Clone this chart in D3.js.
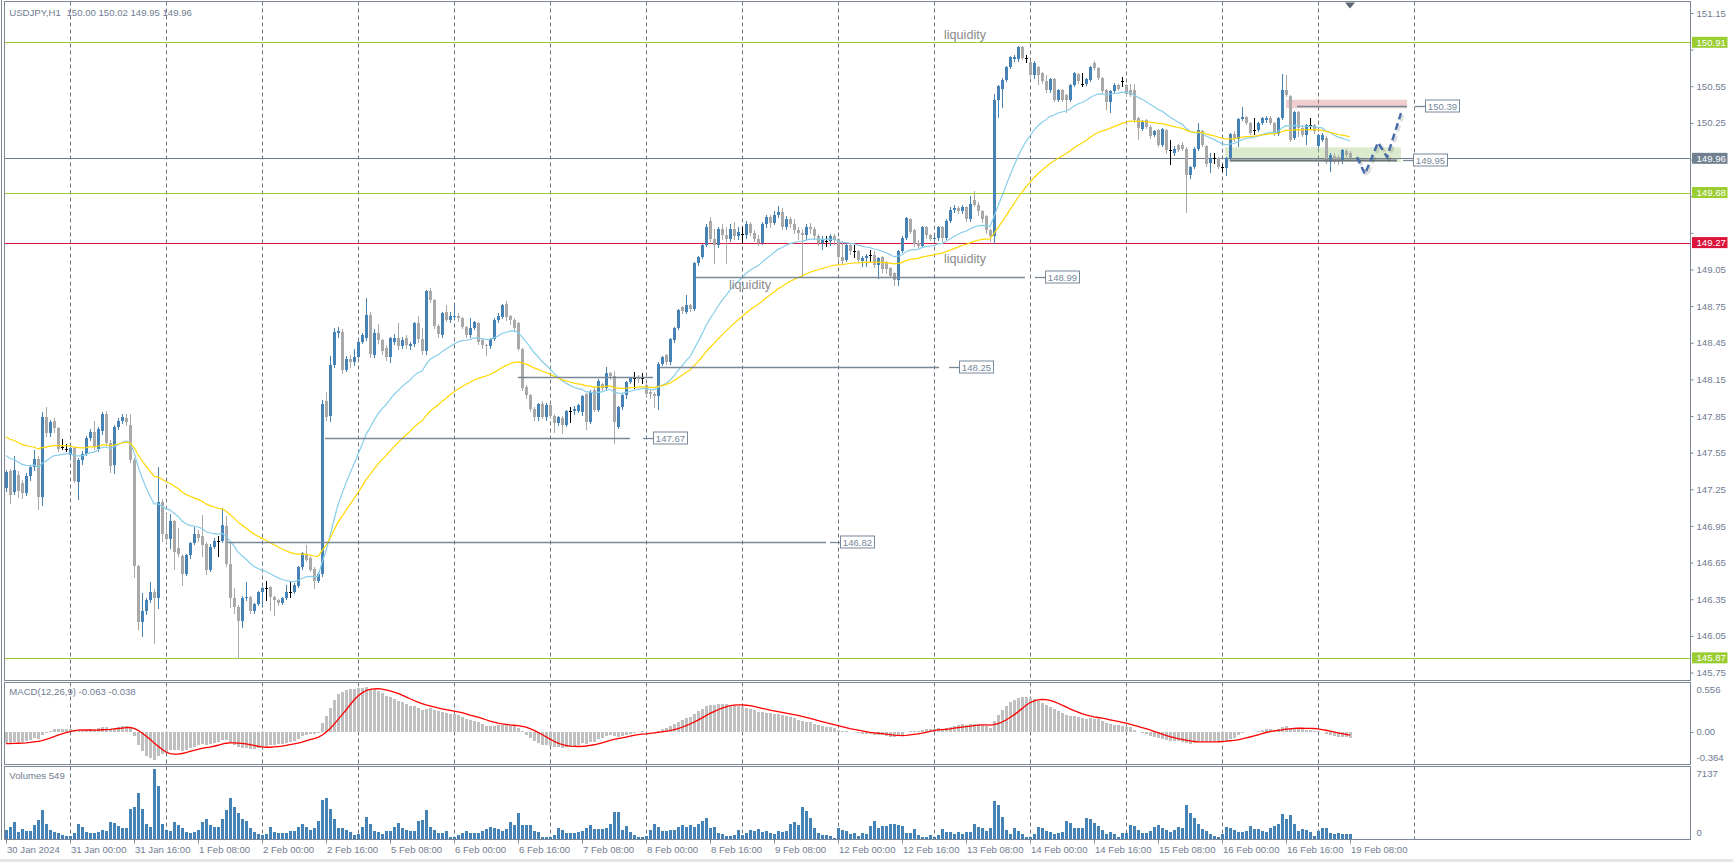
<!DOCTYPE html>
<html><head><meta charset="utf-8">
<script src="https://cdn.jsdelivr.net/npm/d3@7"></script>
<style>
html,body{margin:0;padding:0;background:#fff;overflow:hidden;}
svg{display:block;}
</style></head><body>
<svg id="chart" width="1733" height="862"></svg>
<script>
// ---------------- DATA (USDJPY H1, 30 Jan 2024 08:00 .. 19 Feb 2024 08:00) ----------------
const barOpen = [
147.26,147.40,147.23,147.37,147.30,147.22,147.36,147.43,147.50,147.19,147.84,147.71,147.81,147.75,147.60,147.58,
147.53,147.59,147.31,147.49,147.54,147.67,147.72,147.58,147.73,147.87,147.63,147.45,147.76,147.81,147.83,147.78,147.49,146.62,146.16,146.25,146.34,146.41,146.36,147.15,
146.88,146.84,146.99,146.77,146.70,146.56,146.71,146.81,146.88,146.87,146.80,146.59,146.78,146.83,146.83,146.95,146.64,146.36,146.29,146.17,146.36,146.37,146.25,146.31,
146.41,146.44,146.45,146.37,146.34,146.32,146.36,146.41,146.41,146.46,146.61,146.71,146.69,146.60,146.50,146.56,147.97,147.85,148.27,148.53,148.54,148.23,148.32,148.29,
148.33,148.46,148.49,148.68,148.35,148.53,148.47,148.41,148.33,148.46,148.49,148.42,148.49,148.42,148.44,148.61,148.48,148.38,148.87,148.80,148.59,148.51,148.70,148.64,
148.66,148.67,148.65,148.58,148.51,148.57,148.61,148.47,148.43,148.42,148.48,148.64,148.66,148.77,148.67,148.64,148.61,148.40,148.09,148.02,147.91,147.84,147.95,147.84,
147.94,147.85,147.79,147.83,147.78,147.89,147.89,147.89,147.88,148.03,147.80,148.06,147.90,148.11,148.08,148.20,148.18,147.76,147.92,148.02,148.13,148.16,148.17,148.16,
148.10,148.05,148.03,148.01,148.28,148.35,148.29,148.47,148.57,148.74,148.70,148.76,148.73,149.10,149.15,149.25,149.45,149.30,149.25,149.38,149.33,149.30,149.38,149.32,
149.34,149.33,149.42,149.35,149.30,149.27,149.42,149.48,149.43,149.50,149.52,149.40,149.46,149.42,149.37,149.35,149.33,149.40,149.38,149.32,149.27,149.28,149.28,149.32,
149.30,149.15,149.13,149.25,149.20,149.20,149.12,149.14,149.17,149.17,149.09,149.15,149.11,149.06,149.02,148.96,149.20,149.31,149.46,149.37,149.27,149.24,149.40,149.33,
149.30,149.31,149.40,149.31,149.45,149.54,149.55,149.53,149.56,149.46,149.62,149.58,149.53,149.49,149.37,149.32,150.44,150.53,150.60,150.71,150.77,150.77,150.87,150.78,
150.75,150.64,150.71,150.66,150.59,150.52,150.61,150.44,150.52,150.48,150.44,150.56,150.65,150.57,150.57,150.60,150.74,150.70,150.62,150.52,150.42,150.51,150.56,150.59,
150.56,150.52,150.52,150.29,150.20,150.27,150.22,150.15,150.19,150.07,150.19,150.03,150.00,150.07,150.07,150.04,149.82,149.89,150.04,150.18,150.06,149.92,149.96,149.96,
149.89,149.88,149.96,150.16,150.12,150.28,150.30,150.25,150.19,150.19,150.25,150.27,150.29,150.25,150.16,150.29,150.52,150.47,150.13,150.34,150.21,150.15,150.23,150.23,
150.06,150.11,150.13,149.93,149.98,149.97,149.95,150.02,150.00];
const barHigh = [
147.41,147.42,147.52,147.40,147.33,147.38,147.45,147.57,147.52,147.88,147.92,147.82,147.83,147.76,147.66,147.62,
147.60,147.60,147.51,147.56,147.69,147.74,147.81,147.76,147.88,147.89,147.65,147.78,147.83,147.87,147.87,147.87,147.51,146.63,146.40,146.36,146.49,146.43,147.43,147.17,
147.05,147.05,147.00,146.93,146.72,146.72,146.82,146.94,146.92,147.04,146.82,146.80,146.85,146.87,147.10,147.03,146.81,146.44,146.30,146.38,146.49,146.38,146.32,146.42,
146.45,146.50,146.46,146.38,146.35,146.37,146.47,146.50,146.48,146.62,146.74,146.79,146.70,146.61,146.57,147.98,148.05,148.34,148.57,148.58,148.56,148.34,148.35,148.40,
148.47,148.53,148.82,148.70,148.56,148.60,148.48,148.43,148.50,148.52,148.61,148.50,148.51,148.46,148.62,148.67,148.57,148.88,148.90,148.81,148.60,148.70,148.76,148.70,
148.76,148.69,148.66,148.59,148.65,148.63,148.62,148.48,148.44,148.49,148.65,148.69,148.77,148.79,148.68,148.65,148.62,148.41,148.10,148.03,147.92,147.96,147.97,147.96,
147.95,147.87,147.85,147.85,147.90,147.92,147.93,147.95,148.02,148.04,148.06,148.08,148.15,148.12,148.25,148.21,148.22,147.93,148.03,148.14,148.17,148.21,148.19,148.20,
148.11,148.06,148.05,148.29,148.34,148.36,148.49,148.58,148.73,148.75,148.84,148.77,149.11,149.16,149.26,149.42,149.48,149.38,149.40,149.42,149.40,149.42,149.44,149.40,
149.40,149.45,149.44,149.37,149.33,149.44,149.50,149.50,149.53,149.57,149.55,149.49,149.48,149.46,149.40,149.38,149.42,149.43,149.40,149.34,149.32,149.32,149.34,149.34,
149.31,149.28,149.27,149.27,149.25,149.21,149.16,149.18,149.21,149.20,149.15,149.16,149.12,149.07,149.03,149.21,149.32,149.48,149.47,149.38,149.29,149.41,149.41,149.34,
149.33,149.41,149.41,149.46,149.56,149.58,149.57,149.58,149.57,149.65,149.69,149.60,149.54,149.50,149.38,150.49,150.56,150.62,150.72,150.80,150.81,150.88,150.88,150.81,
150.76,150.76,150.72,150.67,150.64,150.62,150.62,150.53,150.53,150.49,150.57,150.67,150.66,150.66,150.62,150.72,150.76,150.71,150.63,150.53,150.52,150.58,150.57,150.63,
150.57,150.57,150.57,150.30,150.27,150.28,150.23,150.19,150.20,150.21,150.20,150.11,150.06,150.08,150.09,150.05,149.90,150.05,150.25,150.19,150.07,150.00,150.00,149.97,
149.91,149.97,150.17,150.18,150.29,150.38,150.31,150.26,150.29,150.26,150.30,150.31,150.31,150.26,150.30,150.65,150.64,150.48,150.35,150.35,150.23,150.24,150.29,150.24,
150.16,150.17,150.14,150.00,150.00,149.99,150.04,150.04,150.02];
const barLow = [
147.24,147.14,147.21,147.19,147.18,147.20,147.33,147.41,147.09,147.12,147.69,147.69,147.72,147.56,147.58,147.56,
147.51,147.31,147.17,147.46,147.53,147.65,147.58,147.56,147.70,147.61,147.39,147.38,147.74,147.79,147.78,147.47,146.53,146.11,146.05,146.23,146.33,145.99,146.28,146.83,
146.82,146.77,146.60,146.70,146.47,146.55,146.69,146.80,146.83,146.70,146.56,146.58,146.77,146.70,146.82,146.62,146.29,146.24,145.87,146.12,146.34,146.24,146.24,146.30,
146.30,146.34,146.26,146.22,146.30,146.31,146.35,146.37,146.40,146.45,146.60,146.66,146.58,146.44,146.49,146.54,147.82,147.81,148.25,148.50,148.20,148.22,148.25,148.27,
148.33,148.45,148.47,148.33,148.33,148.45,148.36,148.31,148.29,148.44,148.40,148.41,148.41,148.40,148.42,148.46,148.36,148.36,148.78,148.57,148.50,148.50,148.63,148.62,
148.65,148.63,148.57,148.50,148.50,148.56,148.44,148.41,148.35,148.41,148.47,148.62,148.65,148.64,148.60,148.55,148.39,148.06,148.00,147.89,147.82,147.82,147.83,147.82,
147.83,147.72,147.78,147.71,147.77,147.80,147.87,147.88,147.86,147.74,147.79,147.89,147.89,148.06,148.07,148.15,147.63,147.75,147.91,148.00,148.12,148.08,148.13,148.12,
148.02,148.00,147.92,147.91,148.27,148.28,148.28,148.46,148.56,148.69,148.69,148.71,148.72,149.09,149.14,149.24,149.28,149.10,149.23,149.30,149.10,149.28,149.30,149.30,
149.27,149.31,149.33,149.28,149.25,149.26,149.40,149.40,149.42,149.48,149.38,149.38,149.40,149.35,149.30,148.99,149.30,149.35,149.30,149.25,149.22,149.24,149.25,149.26,
149.13,149.10,149.12,149.18,149.15,149.11,149.08,149.08,149.12,149.07,148.98,149.03,149.02,148.99,148.92,148.92,149.19,149.30,149.35,149.24,149.23,149.23,149.31,149.29,
149.29,149.29,149.28,149.30,149.44,149.52,149.51,149.51,149.45,149.45,149.57,149.50,149.44,149.35,149.28,149.27,150.30,150.38,150.59,150.70,150.76,150.76,150.77,150.75,
150.63,150.62,150.57,150.58,150.50,150.50,150.43,150.43,150.43,150.34,150.43,150.55,150.58,150.55,150.56,150.59,150.69,150.61,150.50,150.36,150.34,150.50,150.52,150.55,
150.48,150.47,150.26,150.12,150.19,150.21,150.13,150.14,150.06,150.06,150.00,149.91,149.99,150.02,150.03,149.52,149.80,149.88,150.03,150.06,149.90,149.85,149.92,149.88,
149.86,149.82,149.95,150.10,150.06,150.27,150.24,150.16,150.16,150.18,150.24,150.26,150.24,150.15,150.15,150.28,150.47,150.10,150.12,150.14,150.14,150.08,150.20,150.17,
150.05,150.10,149.92,149.86,149.92,149.91,149.92,149.96,149.95];
const barClose = [
147.39,147.20,147.41,147.24,147.22,147.36,147.43,147.50,147.19,147.84,147.71,147.80,147.75,147.58,147.60,147.58,
147.59,147.32,147.49,147.54,147.67,147.72,147.60,147.74,147.87,147.63,147.44,147.76,147.81,147.84,147.80,147.49,146.62,146.16,146.25,146.34,146.41,146.36,147.15,146.88,
146.84,146.99,146.74,146.72,146.56,146.71,146.81,146.88,146.85,146.79,146.59,146.78,146.83,146.83,146.96,146.64,146.36,146.29,146.17,146.36,146.37,146.25,146.31,146.41,
146.44,146.44,146.37,146.34,146.32,146.36,146.41,146.41,146.47,146.61,146.73,146.67,146.59,146.50,146.56,147.95,147.84,148.27,148.54,148.55,148.23,148.32,148.29,148.33,
148.46,148.51,148.68,148.36,148.53,148.47,148.38,148.33,148.49,148.49,148.42,148.47,148.43,148.44,148.61,148.48,148.38,148.87,148.80,148.59,148.52,148.69,148.64,148.67,
148.67,148.65,148.58,148.51,148.57,148.62,148.46,148.43,148.42,148.48,148.64,148.67,148.76,148.66,148.64,148.57,148.40,148.08,148.02,147.91,147.84,147.95,147.84,147.94,
147.85,147.79,147.84,147.78,147.89,147.89,147.91,147.94,148.01,147.80,148.05,147.90,148.14,148.08,148.20,148.18,147.80,147.92,148.02,148.13,148.16,148.16,148.15,148.16,
148.03,148.03,148.01,148.28,148.33,148.29,148.48,148.57,148.72,148.71,148.76,148.73,149.10,149.15,149.25,149.40,149.30,149.25,149.38,149.33,149.30,149.38,149.32,149.36,
149.34,149.42,149.35,149.30,149.27,149.42,149.48,149.43,149.50,149.52,149.40,149.46,149.42,149.37,149.35,149.33,149.40,149.38,149.32,149.27,149.30,149.28,149.32,149.29,
149.15,149.12,149.25,149.20,149.20,149.13,149.14,149.16,149.17,149.09,149.14,149.05,149.05,149.00,148.96,149.20,149.31,149.47,149.36,149.26,149.24,149.40,149.33,149.30,
149.31,149.40,149.31,149.45,149.54,149.55,149.53,149.56,149.46,149.59,149.58,149.53,149.46,149.37,149.32,150.44,150.55,150.60,150.71,150.79,150.79,150.87,150.78,150.78,
150.64,150.74,150.64,150.59,150.52,150.61,150.44,150.52,150.44,150.44,150.56,150.66,150.59,150.57,150.61,150.71,150.70,150.62,150.51,150.42,150.51,150.56,150.53,150.59,
150.49,150.48,150.27,150.21,150.26,150.22,150.14,150.18,150.07,150.20,150.03,150.03,150.04,150.03,150.04,149.82,149.89,150.04,150.19,150.07,149.91,149.96,149.96,149.89,
149.89,149.96,150.16,150.12,150.28,150.30,150.25,150.17,150.19,150.25,150.29,150.29,150.25,150.16,150.29,150.52,150.48,150.11,150.34,150.21,150.15,150.23,150.23,150.18,
150.15,150.15,149.93,149.99,149.93,149.93,150.03,149.99,149.96];
const barVolume = [
900,1250,1760,700,1000,800,850,1430,1940,2960,1530,900,750,600,400,300,
350,600,1530,1250,700,650,600,700,900,850,1730,1630,1360,1120,1120,3060,3300,4690,3060,1530,1250,7137,5400,1530,
900,800,1760,1430,1120,700,650,750,900,1760,2060,1430,1250,1250,1990,2960,4150,3300,2620,2060,1830,1100,700,500,
400,550,1200,700,650,600,650,800,850,1250,1530,1250,900,1130,1800,3980,4210,3060,1990,1120,1120,900,700,400,
500,1250,2280,1530,800,700,550,830,830,1240,1590,1140,930,790,790,1860,1970,3000,1240,930,620,620,830,240,
210,410,660,830,620,620,620,830,1070,1240,1140,1040,860,1000,1760,1450,2690,1450,1410,1450,830,760,240,210,
240,450,1140,930,660,660,600,700,800,1140,1450,1040,1000,1000,1140,1550,2800,2800,930,1280,730,410,210,240,
300,900,1550,1240,830,830,930,930,1240,1450,1240,1380,1240,1550,1860,2170,1140,1240,660,480,300,280,450,900,
400,600,900,800,1000,700,830,600,500,800,700,800,1500,1700,1400,3310,2900,2170,1100,600,450,450,300,150,
1140,930,790,480,660,310,620,550,1350,1860,1140,1350,1280,1520,1520,1380,1350,620,620,1070,410,210,210,410,
210,410,1040,720,720,480,720,480,720,720,1550,1240,1140,830,1140,3830,3420,2280,930,480,1140,830,480,210,
210,480,1240,1140,830,720,480,620,720,1860,1660,1140,1140,1140,2170,2070,1660,1350,930,480,720,480,210,620,
620,1450,1350,930,620,620,830,1240,1450,1140,930,720,930,1240,1140,3420,2690,2170,1550,1070,830,480,300,210,
480,1240,1140,930,720,720,830,1350,1040,1040,830,720,1140,1350,1500,2590,2070,2480,1550,830,1040,930,720,310,
790,1140,1140,620,550,620,550,480,549];

const timeLabels = ["30 Jan 2024","31 Jan 00:00","31 Jan 16:00","1 Feb 08:00","2 Feb 00:00","2 Feb 16:00",
  "5 Feb 08:00","6 Feb 00:00","6 Feb 16:00","7 Feb 08:00","8 Feb 00:00","8 Feb 16:00","9 Feb 08:00",
  "12 Feb 00:00","12 Feb 16:00","13 Feb 08:00","14 Feb 00:00","14 Feb 16:00","15 Feb 08:00","16 Feb 00:00",
  "16 Feb 16:00","19 Feb 08:00"];
const priceTicks = [145.75,146.05,146.35,146.65,146.95,147.25,147.55,147.85,148.15,148.45,148.75,149.05,149.35,149.65,149.95,150.25,150.55,150.85,151.15];

// horizontal price levels with coloured axis tags
const priceTags = [
  {price:150.91, color:"#9acd32", text:"#ffffff"},
  {price:149.96, color:"#708090", text:"#ffffff"},
  {price:149.68, color:"#9acd32", text:"#ffffff"},
  {price:149.27, color:"#dc143c", text:"#ffffff"},
  {price:145.87, color:"#9acd32", text:"#ffffff"}
];
// drawn level segments (bar index range, price, label box position in bars)
const levelLines = [
  {price:148.99, from:172.5, to:254.75, labelAt:259.75, label:"148.99"},
  {price:148.25, from:163.5, to:233.25, labelAt:238.25, label:"148.25"},
  {price:148.17, from:128,   to:161.75, labelAt:null,   label:null},
  {price:147.67, from:79.75, to:156,    labelAt:161.75, label:"147.67"},
  {price:146.82, from:55.25, to:205,    labelAt:208.5,  label:"146.82"},
  {price:150.39, from:322.75,to:350.25, labelAt:354.75, label:"150.39"},
  {price:149.95, from:306,   to:347.75, labelAt:351.75, label:"149.95", thick:true}
];
const zones = [
  {from:320,    to:350.25, top:150.44, bottom:150.37, fill:"rgba(214,120,120,0.36)"},
  {from:304.75, to:348.75, top:150.05, bottom:149.93, fill:"rgba(140,185,90,0.30)"}
];
const forecastPath = [
  {bar:337.75, price:149.97},{bar:339.75, price:149.83},{bar:343, price:150.09},
  {bar:345.25, price:149.97},{bar:348.75, price:150.33}
];
const notes = [
  {bar:239.75, price:150.97,  text:"liquidity"},
  {bar:239.75, price:149.135, text:"liquidity"},
  {bar:186,    price:148.92,  text:"liquidity"}
];
const maFastPeriod = 24, maFastSeed = 147.54;
const maSlowPeriod = 50, maSlowSeed = 147.69;
const macdSeeds = {fast:147.40, slow:147.53, signal:-0.135};

// ---------------- RENDER ----------------
const FONT = '"Liberation Sans", Arial, sans-serif';
const TXT = "#6f7c91", FRAME = "#7d8796", GRID = "#6e7683";
const BULL = "#4682b4", BEAR = "#a9a9a9";
const N = barClose.length;
const svg = d3.select("#chart");
const L = 4.5, R = 1690.5;
const P = {mainTop:1.5, mainBot:680.5, macdTop:682.5, macdBot:764.5, volTop:766.5, volBot:839.5};

const x = d3.scaleLinear().domain([0, 336]).range([6, 1350]);
const y = d3.scaleLinear().domain([145.75, 151.15]).range([672.5, 13]);
const yMacd = d3.scaleLinear().domain([-0.364, 0.556]).range([764, 683]);
const yVol = d3.scaleLinear().domain([0, 7137]).range([839, 769]);

const bars = d3.range(N).map(i => ({i, o:barOpen[i], h:barHigh[i], l:barLow[i], c:barClose[i], v:barVolume[i]}));

function emaSeries(vals, period, seed){ const k = 2/(period+1); let p = seed; return vals.map(v => (p = p + k*(v - p))); }
const maFast = emaSeries(barClose, maFastPeriod, maFastSeed);
const maSlow = emaSeries(barClose, maSlowPeriod, maSlowSeed);
const e12 = emaSeries(barClose, 12, macdSeeds.fast), e26 = emaSeries(barClose, 26, macdSeeds.slow);
const macdMain = e12.map((v,i) => v - e26[i]);
const macdSignal = macdMain.map((v,i) => { let s = 0; for (let j=i-8;j<=i;j++) s += j>=0 ? macdMain[j] : macdSeeds.signal; return s/9; });

const defs = svg.append("defs");
[["cMain",P.mainTop,P.mainBot],["cMacd",P.macdTop,P.macdBot],["cVol",P.volTop,P.volBot]].forEach(([id,t,b]) => {
  defs.append("clipPath").attr("id",id).append("rect").attr("x",L+0.5).attr("y",t+0.5).attr("width",R-L-1).attr("height",b-t-1);
});

// vertical dashed grid
const gGrid = svg.append("g");
d3.range(16, 353, 24).forEach(i => {
  const gx = Math.round(x(i)) + 0.5;
  [[P.mainTop,P.mainBot],[P.macdTop,P.macdBot],[P.volTop,P.volBot]].forEach(([t,b]) =>
    gGrid.append("line").attr("x1",gx).attr("x2",gx).attr("y1",t).attr("y2",b)
      .attr("stroke",GRID).attr("stroke-width",1).attr("stroke-dasharray","4,3"));
});

// main panel
const gMain = svg.append("g").attr("clip-path","url(#cMain)");
zones.forEach(z => gMain.append("rect").attr("x",x(z.from)).attr("width",x(z.to)-x(z.from))
  .attr("y",y(z.top)).attr("height",y(z.bottom)-y(z.top)).attr("fill",z.fill));
priceTags.forEach(t => gMain.append("line").attr("x1",L).attr("x2",R)
  .attr("y1",Math.round(y(t.price))+0.5).attr("y2",Math.round(y(t.price))+0.5)
  .attr("stroke",t.color).attr("stroke-width",1));

const colorOf = d => d.c > d.o ? BULL : (d.c < d.o ? BEAR : "#000");
gMain.selectAll("line.wick").data(bars).join("line").attr("class","wick")
  .attr("x1",d => Math.round(x(d.i))+0.5).attr("x2",d => Math.round(x(d.i))+0.5)
  .attr("y1",d => Math.round(y(d.h))).attr("y2",d => Math.round(y(d.l))+1)
  .attr("stroke",colorOf).attr("stroke-width",1).attr("shape-rendering","crispEdges");
gMain.selectAll("rect.body").data(bars).join("rect").attr("class","body")
  .attr("x",d => Math.round(x(d.i))-1).attr("width",3)
  .attr("y",d => Math.round(y(Math.max(d.o,d.c))))
  .attr("height",d => Math.max(1, Math.round(y(Math.min(d.o,d.c))) - Math.round(y(Math.max(d.o,d.c)))))
  .attr("fill",colorOf).attr("shape-rendering","crispEdges");

const lineGen = d3.line().x((d,i) => x(i)).y(d => y(d));
gMain.append("path").attr("d",lineGen(maFast)).attr("fill","none").attr("stroke","#87ceeb").attr("stroke-width",1.2);
gMain.append("path").attr("d",lineGen(maSlow)).attr("fill","none").attr("stroke","#ffd700").attr("stroke-width",1.2);

levelLines.forEach(lv => {
  const ly = Math.round(y(lv.price)) + 0.5, x1 = x(lv.from), x2 = x(lv.to);
  gMain.append("line").attr("x1",x1).attr("x2",x2).attr("y1",ly).attr("y2",ly)
    .attr("stroke", lv.thick ? "#6c7580" : "#778899").attr("stroke-width", lv.thick ? 2 : 1.3);
  if (lv.label) {
    const bx = x(lv.labelAt);
    gMain.append("line").attr("x1",Math.max(x2, bx-10)).attr("x2",bx).attr("y1",ly).attr("y2",ly).attr("stroke","#778899").attr("stroke-width",1.3);
    gMain.append("rect").attr("x",bx+0.5).attr("y",ly-6.5).attr("width",34).attr("height",12)
      .attr("fill","#fff").attr("stroke","#778899").attr("stroke-width",1);
    gMain.append("text").attr("x",bx+17.5).attr("y",ly).attr("dy","0.34em").attr("text-anchor","middle")
      .attr("font-family",FONT).attr("font-size",9.6).attr("fill","#778899").text(lv.label);
  }
});

const fLine = d3.line().x(d => x(d.bar)).y(d => y(d.price));
gMain.append("path").attr("d",fLine(forecastPath)).attr("transform","translate(2,2)").attr("fill","none")
  .attr("stroke","rgba(0,0,0,0.12)").attr("stroke-width",3).attr("stroke-dasharray","7,4");
gMain.append("path").attr("d",fLine(forecastPath)).attr("fill","none")
  .attr("stroke","#4a6ea8").attr("stroke-width",2.5).attr("stroke-dasharray","7,4");

notes.forEach(n => gMain.append("text").attr("x",x(n.bar)).attr("y",y(n.price)).attr("dy","0.32em")
  .attr("text-anchor","middle").attr("font-family",FONT).attr("font-size",12.6).attr("fill","#8a8a8a").text(n.text));

// MACD panel
const gMacd = svg.append("g").attr("clip-path","url(#cMacd)");
gMacd.selectAll("rect").data(macdMain).join("rect")
  .attr("x",(d,i) => Math.round(x(i))-1).attr("width",3)
  .attr("y",d => Math.min(yMacd(0), yMacd(d))).attr("height",d => Math.abs(yMacd(d)-yMacd(0)))
  .attr("fill","#c0c0c0").attr("shape-rendering","crispEdges");
gMacd.append("path").attr("d",d3.line().x((d,i)=>x(i)).y(d=>yMacd(d))(macdSignal))
  .attr("fill","none").attr("stroke","#ff0000").attr("stroke-width",1.3);

// Volume panel
const gVol = svg.append("g").attr("clip-path","url(#cVol)");
gVol.selectAll("rect").data(bars).join("rect")
  .attr("x",d => Math.round(x(d.i))-1).attr("width",3)
  .attr("y",d => yVol(d.v)).attr("height",d => yVol(0)-yVol(d.v))
  .attr("fill",BULL).attr("shape-rendering","crispEdges");

// frames
svg.append("line").attr("x1",1.5).attr("x2",1.5).attr("y1",0).attr("y2",840).attr("stroke",FRAME);
[[P.mainTop,P.mainBot],[P.macdTop,P.macdBot],[P.volTop,P.volBot]].forEach(([t,b]) =>
  svg.append("rect").attr("x",L).attr("y",t).attr("width",R-L).attr("height",b-t)
    .attr("fill","none").attr("stroke",FRAME).attr("stroke-width",1));

// price axis (tick labels hidden under a coloured tag are dropped)
const hiddenTicks = priceTicks.filter(p => priceTags.some(t => Math.abs(y(t.price) - y(p)) < 10));
const gY = svg.append("g").attr("transform",`translate(${R},0)`)
  .call(d3.axisRight(y).tickValues(priceTicks).tickFormat(d => hiddenTicks.includes(d) ? "" : d3.format(".2f")(d)).tickSize(3).tickPadding(3));
gY.select(".domain").remove();
gY.selectAll("line").attr("stroke",FRAME);
gY.selectAll("text").attr("font-family",FONT).attr("font-size",9.6).attr("fill",TXT);
priceTags.forEach(t => {
  const ty = y(t.price);
  svg.append("rect").attr("x",R+1.5).attr("y",ty-5.5).attr("width",35.5).attr("height",11).attr("fill",t.color);
  svg.append("text").attr("x",R+6).attr("y",ty).attr("dy","0.34em").attr("font-family",FONT).attr("font-size",9.6)
    .attr("fill",t.text).text(t.price.toFixed(2));
});

// macd & volume axis labels
const sideLbl = (yy, s) => svg.append("text").attr("x",R+6).attr("y",yy).attr("dy","0.34em")
  .attr("font-family",FONT).attr("font-size",9.6).attr("fill",TXT).text(s);
sideLbl(690, "0.556"); sideLbl(yMacd(0), "0.00"); sideLbl(758, "-0.364");
svg.append("line").attr("x1",R).attr("x2",R+3).attr("y1",Math.round(yMacd(0))+0.5).attr("y2",Math.round(yMacd(0))+0.5).attr("stroke",FRAME);
sideLbl(773.5, "7137"); sideLbl(833, "0");

// time axis
const gX = svg.append("g").attr("transform",`translate(0,${P.volBot})`)
  .call(d3.axisBottom(x).tickValues(d3.range(0, N, 16)).tickFormat((d,i) => timeLabels[i]).tickSize(4).tickPadding(3));
gX.select(".domain").remove();
gX.selectAll("line").attr("stroke",FRAME);
gX.selectAll("text").attr("text-anchor","start").attr("dx","0.5").attr("font-family",FONT).attr("font-size",9.6).attr("fill",TXT);

// titles
const title = (xx, yy, s) => svg.append("text").attr("x",xx).attr("y",yy).attr("dy","0.34em")
  .attr("font-family",FONT).attr("font-size",9.6).attr("fill",TXT).text(s);
title(9.3, 12.7, "USDJPY,H1");
title(66.5, 12.7, "150.00 150.02 149.95 149.96");
title(9.3, 691.7, "MACD(12,26,9) -0.063 -0.038");
title(9.3, 776, "Volumes 549");

// chart shift marker
const mx = x(336);
svg.append("path").attr("d",`M${mx-5},2.5 L${mx+5},2.5 L${mx},8.5 Z`).attr("fill","#5b6573");
svg.append("rect").attr("x",0).attr("y",859).attr("width",1733).attr("height",3).attr("fill","#e6e6e6");
</script>
</body></html>
